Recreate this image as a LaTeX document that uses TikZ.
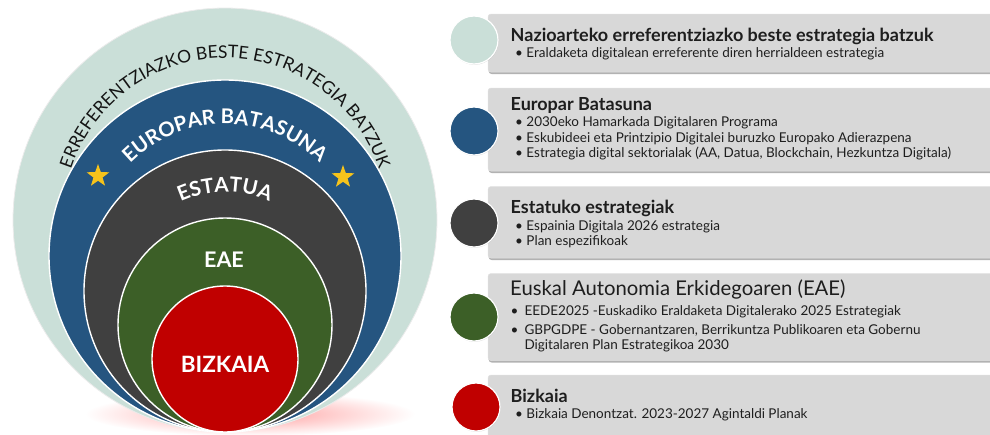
\documentclass[tikz,border=0pt]{standalone}
\usepackage{fontspec}
\setmainfont{Lato}
\usetikzlibrary{decorations.text,shapes.geometric,shadows}
\definecolor{paleC}{RGB}{202,223,216}
\definecolor{blueC}{RGB}{37,85,128}
\definecolor{grayC}{RGB}{64,64,64}
\definecolor{greenC}{RGB}{60,95,39}
\definecolor{redC}{RGB}{192,0,0}
\definecolor{starC}{RGB}{246,195,27}
\definecolor{boxC}{RGB}{216,216,216}
\definecolor{txtC}{RGB}{30,30,30}
\tikzset{
  ring/.style={draw=white, line width=1.4pt},
  starnode/.style={star, star points=5, star point ratio=2.5, fill=starC, inner sep=0pt, minimum size=24pt},
  biglabel/.style={text=white, font=\bfseries\fontsize{#1}{#1}\selectfont, inner sep=0pt},
  infobox/.style={fill=boxC, draw=white!88!black, line width=0.5pt, rounded corners=3pt,
      drop shadow={shadow xshift=0.6pt, shadow yshift=-2pt, fill=black!55, opacity=0.55}},
  dot/.style={circle, minimum size=48pt, inner sep=0pt, draw=white, line width=1.2pt,
      drop shadow={shadow xshift=0.5pt, shadow yshift=-0.8pt, fill=black!40, opacity=0.35}},
  ttl/.style={anchor=base west, inner sep=0pt, text=txtC, font=\bfseries\fontsize{18}{18}\selectfont},
  ttlreg/.style={anchor=base west, inner sep=0pt, text=txtC, font=\fontsize{20.3}{20.3}\selectfont},
  itm/.style={anchor=base west, inner sep=0pt, text=txtC, font=\fontsize{13.5}{13.5}\selectfont},
}
\begin{document}
\begin{tikzpicture}[x=1pt,y=-1pt]
\useasboundingbox (0,0) rectangle (990,434);
% glow under the circles
\shade[inner color=red!38, outer color=white] (250,414) ellipse [x radius=165, y radius=22];
% concentric circles tangent at bottom
\fill[paleC, draw=white!85!gray, line width=0.8pt] (225,220) circle [radius=212];
\fill[blueC, ring] (225,256) circle [radius=176];
\fill[grayC, ring] (225,291) circle [radius=141];
\fill[greenC, ring] (225,325) circle [radius=107];
\fill[redC, ring] (225,359) circle [radius=73];
% curved texts
\path[decorate, decoration={text along path, text align=center, text color=black!92,
   text={|\fontsize{17.5}{17.5}\selectfont|ERREFERENTZIAZKO BESTE ESTRATEGIA BATZUK}}]
   ([shift={(-178:162)}]225,220) arc[start angle=-178, end angle=-2, radius=162];
\path[decorate, decoration={text along path, text align=center, text color=white,
   text={|\bfseries\fontsize{20.3}{20.3}\selectfont|EUROPAR BATASUNA}}]
   ([shift={(-175:134)}]225,258) arc[start angle=-175, end angle=-5, radius=134];
\path[decorate, decoration={text along path, text align=center, text color=white,
   text={|\bfseries\fontsize{20.5}{20.5}\selectfont|ESTATUA}}]
   ([shift={(-150:108)}]225,300) arc[start angle=-150, end angle=-30, radius=108];
\node[biglabel=21.5] (eae) at (224,260) {EAE};
\node[biglabel=22.5] (bizk) at (225,364) {BIZKAIA};
\node[starnode] (s1) at (98,176) {};
\node[starnode] (s2) at (343,177) {};
% right-hand boxes
\fill[infobox] (488,14) rectangle (1000,72);
\fill[infobox] (488,88) rectangle (1000,171);
\fill[infobox] (488,186.5) rectangle (1000,258);
\fill[infobox] (488,273.5) rectangle (1000,360.5);
\fill[infobox] (488,375) rectangle (1000,450);
\node[dot, fill=paleC] (c1) at (474,40) {};
\node[dot, fill=blueC] (c2) at (474,131) {};
\node[dot, fill=grayC] (c3) at (474,223) {};
\node[dot, fill=greenC] (c4) at (474,317) {};
\node[dot, fill=redC] (c5) at (476,407) {};
% texts
\node[ttl] (t1) at (510.5,41.7) {Nazioarteko erreferentziazko beste estrategia batzuk};
\node[itm] (t1a) at (515,57.7) {• Eraldaketa digitalean erreferente diren herrialdeen estrategia};
\node[ttl] (t2) at (510.5,110.7) {Europar Batasuna};
\node[itm] (t2a) at (515,126.7) {• 2030eko Hamarkada Digitalaren Programa};
\node[itm] (t2b) at (515,142.2) {• Eskubideei eta Printzipio Digitalei buruzko Europako Adierazpena};
\node[itm] (t2c) at (515,157.7) {• Estrategia digital sektorialak (AA, Datua, Blockchain, Hezkuntza Digitala)};
\node[ttl] (t3) at (510.5,213.3) {Estatuko estrategiak};
\node[itm] (t3a) at (515,230.7) {• Espainia Digitala 2026 estrategia};
\node[itm] (t3b) at (515,245.7) {• Plan espezifikoak};
\node[ttlreg] (t4) at (510,295.7) {Euskal Autonomia Erkidegoaren (EAE)};
\node[itm] (b4a) at (510.5,315.7) {•};
\node[itm] (t4a) at (524.3,315.7) {EEDE2025 -Euskadiko Eraldaketa Digitalerako 2025 Estrategiak};
\node[itm] (b4b) at (510.5,334) {•};
\node[itm] (t4b) at (524.3,334) {GBPGDPE - Gobernantzaren, Berrikuntza Publikoaren eta Gobernu};
\node[itm] (t4c) at (524.3,349.3) {Digitalaren Plan Estrategikoa 2030};
\node[ttl] (t5) at (510.5,402.7) {Bizkaia};
\node[itm] (t5a) at (515,418.3) {• Bizkaia Denontzat. 2023-2027 Agintaldi Planak};
\end{tikzpicture}
\end{document}
